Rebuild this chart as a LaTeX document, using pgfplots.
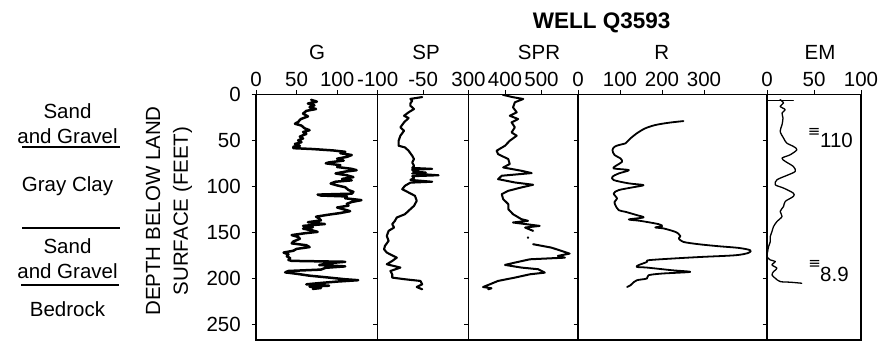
\documentclass[border=0pt]{standalone}
\usepackage{fontspec}
\setmainfont{Liberation Sans}
\newfontfamily\symfont{DejaVu Sans}
\usepackage{pgfplots}
\pgfplotsset{compat=1.18}
\newcommand{\fs}{\fontsize{20.5}{24}\selectfont}
\pgfplotsset{
 welllog/.style={
  scale only axis, height=245.7pt, ymin=0, ymax=267, y dir=reverse,
  anchor=south west,
  axis line style={line width=1.2pt, black},
  tick align=outside, major tick length=4.5pt,
  tick style={line width=0.9pt, black},
  xtick pos=right, xticklabel pos=right,
  ytick pos=left, ytick={0,50,100,150,200,250}, yticklabels={,,,,,},
  xticklabel style={font=\fs, inner sep=0pt, anchor=south, yshift=3pt},
  yticklabel style={font=\fs, inner sep=0pt, anchor=east, xshift=-10.5pt},
  every axis plot/.append style={black, line join=round, line cap=round},
 }
}
\begin{document}
\begin{tikzpicture}[x=1pt,y=1pt]
\useasboundingbox (0,0) rectangle (894,343);
% ---------- G ----------
\begin{axis}[welllog, at={(256pt,3pt)}, width=121.7pt,
  xmin=0, xmax=150, xtick={0,50,100}, xticklabels={0,50,100},
  yticklabels={0,50,100,150,200,250}]
\addplot[line width=2.5pt] coordinates {
(68,6) (75,8) (64,10) (72,12) (66,14) (74,16) (62,18) (58,21) (64,24) (55,27) (52,30) (48,32) (56,34) (60,37) (66,39) (58,41) (62,43) (54,46) (58,48) (52,50) (56,52) (48,54) (54,56) (46,57) (46,58.5) (70,59.5) (95,61) (110,62.5) (104,64) (118,66) (112,68) (100,70) (108,72) (90,74) (86,75) (104,77) (100,79) (118,81) (124,82.5) (110,84) (98,86) (112,88) (120,90) (106,92) (118,93.5) (98,95) (92,97) (100,99) (110,101) (112,102.5) (114,104) (120,106) (118,108) (76,109) (80,110) (112,111) (110,113) (130,115) (118,117) (112,119) (114,121) (100,123) (108,125) (116,127) (104,129) (88,131) (74,133) (78,135) (80,137) (64,139) (85,141) (58,143) (70,144.5) (58,146) (70,148) (76,149.5) (60,151) (44,153) (52,155) (54,157) (46,160) (44,162) (62,164) (66,166) (50,168) (46,170) (34,172) (40,174) (38,176) (42,178) (40,180) (44,181) (110,182) (90,183.5) (78,185.5) (110,187) (86,188.5) (80,190.5) (40,192) (36,193.5) (50,195) (65,197) (88,199) (110,201) (126,202) (100,203.5) (80,205) (62,206.5) (90,208) (66,209) (80,210.5) (70,211.5)
};
\end{axis}
% ---------- SP ----------
\begin{axis}[welllog, at={(377.7pt,3pt)}, width=90.8pt,
  xmin=-100, xmax=0, xtick={-100,-50}, xticklabels={-100,-50}]
\addplot[line width=2.1pt] coordinates {
(-51,3) (-64,5) (-62,7) (-64,10) (-64,12.4) (-60,16) (-66,19.6) (-71,23.3) (-66,25.8) (-71,30.5) (-75,35.9) (-71,39.6) (-75,45) (-77,50.5) (-77,55.9) (-70,57.7) (-66,61.3) (-62,66.8) (-60,70.4) (-62,74) (-60,77.7) (-62,80) (-40,81) (-62,82) (-60,84) (-47,85) (-62,86) (-33,88) (-62,89) (-60,91) (-64,93) (-40,95) (-64,96) (-70,99.4) (-73,103.1) (-66,106.7) (-59,110.3) (-57,115.7) (-60,121.2) (-66,126.6) (-70,130.3) (-79,133.9) (-81,137.5) (-84,141.1) (-82,144.8) (-88,148.4) (-90,153.9) (-88,159.3) (-92,164.7) (-93,168.4) (-90,172) (-79,177.5) (-84,181.1) (-90,184.7) (-75,188.3) (-86,192) (-84,195.6) (-84,199.2) (-70,201) (-53,202.8) (-51,206.4) (-57,209.4) (-51,211.9)
};
\end{axis}
% ---------- SPR ----------
\begin{axis}[welllog, at={(468.5pt,3pt)}, width=109.5pt,
  xmin=300, xmax=600, xtick={300,400,500}, xticklabels={300,400,500}]
\addplot[line width=2pt] coordinates {
(394,0.5) (420,3) (450,5.1) (427,8.7) (422,14.2) (432,19.6) (413,23.3) (436,26.9) (418,30.5) (427,35.9) (418,41.4) (432,45) (413,50.5) (400,55.9) (377,61.3) (381,65) (409,70.4) (413,75.8) (395,79.5) (445,83.1) (473,85.6) (391,88.5) (381,92.2) (427,95.8) (477,98.3) (445,101.2) (409,104.9) (391,108.5) (395,113.9) (409,119.4) (409,124.8) (422,130.3) (445,135.7) (463,137.5) (422,139.3) (495,143) (455,144.8) (477,148.4)
};
\addplot[only marks, mark=*, mark size=1pt] coordinates {(463,155.7)};
\addplot[line width=2pt] coordinates {
(477,162.9) (527,166.6) (555,170.2) (577,173.1) (545,175.6) (564,177.5) (468,179.3) (427,182.9) (400,185.4) (445,188.3) (491,190.1) (509,193.8) (468,195.6) (427,199.2) (381,202.8) (359,206.4) (340,209.4) (363,210.8) (354,211.9)
};
\end{axis}
% ---------- R ----------
\begin{axis}[welllog, at={(578pt,3pt)}, width=189pt,
  xmin=0, xmax=450, xtick={0,100,200,300}, xticklabels={0,100,200,300}]
\addplot[line width=1.8pt, smooth] coordinates {
(251,29.1) (216,30.9) (184,33.4) (160,37) (140,42.4) (125,47.9) (117,51.5) (113,53.3) (97,55.2) (87,57) (82,60.6) (87,66) (101,69.6) (105,73.3) (93,76.9) (85,80.5) (121,82.4) (97,86) (82,89.6) (85,93.2) (121,96.8) (156,98.7) (129,101.2) (97,104.1) (85,107.7) (93,113.2) (87,116.8) (89,120.5) (97,125.9) (113,127.7) (140,131.3) (156,133.8) (121,136) (148,137.5) (192,141.1) (200,143.3) (184,144.7) (204,145.8) (232,149.5) (240,152) (244,154.2) (240,156.7) (251,160.4) (287,162.9) (335,165.1) (382,166.9) (410,169.4) (406,172.3) (375,174.9) (295,176.7) (224,178.5) (168,180.3) (164,182.2) (144,185.7) (140,187.6) (164,188.3) (224,191.2) (267,193) (200,194.8) (168,196.6) (164,200.2) (140,202.1) (129,205.7) (125,207.5) (117,209.4)
};
\end{axis}
% ---------- EM ----------
\begin{axis}[welllog, at={(767pt,3pt)}, width=94pt,
  xmin=0, xmax=100, xtick={0,50,100}, xticklabels={0,50,100}]
\addplot[line width=1.3pt, smooth] coordinates {
(14,5.8) (17.6,9.5) (14,13.1) (19.4,16.7) (16,20.3) (17,25.8) (16,33) (14,40.3) (17.6,47.6) (21,53) (28,56.6) (31.8,60.2) (24.7,65.7) (16,69.3) (19.4,72.9) (28,78.4) (30,83.8) (21,88.2) (10.6,92.9) (8.8,98.3) (17.6,101.9) (28,107.4) (28,111) (19.4,116.4) (17.6,121.9) (14,127.3) (16,132.8) (10.6,138.2) (7,143.6) (5.3,149.1) (3.5,154.5) (3.5,160) (1.7,165.4) (0.7,170.8) (0,176.3) (3.5,180) (8.8,181.7) (5.3,185.4) (10.6,189) (7,192.6) (5.3,196.3) (8.8,199.9) (14,203.5) (24.7,204.2) (37,205.3)
};
\addplot[line width=1.3pt] coordinates {(0,6.5) (28,6.5)};
\end{axis}
% ---------- texts ----------
\node[font=\fs, anchor=base] at (317,283.5) {G};
\node[font=\fs, anchor=base] at (426,283.5) {SP};
\node[font=\fs, anchor=base] at (539,283.5) {SPR};
\node[font=\fs, anchor=base] at (661.7,283.5) {R};
\node[font=\fs, anchor=base] at (820,283.5) {EM};
\node[font=\fontsize{22.5}{26}\selectfont\bfseries, anchor=base] at (601.7,314.7) {WELL Q3593};
\node[rotate=90, align=center, font=\fontsize{20.5}{27.7}\selectfont] at (169,132) {DEPTH BELOW LAND\\SURFACE (FEET)};
\node[font=\fs, anchor=base] at (67.5,224.7) {Sand};
\node[font=\fs, anchor=base] at (67.5,199.7) {and Gravel};
\draw[line width=1.7pt] (22,195.7) -- (120,195.7);
\node[font=\fs, anchor=base] at (67.5,151.3) {Gray Clay};
\draw[line width=1.7pt] (22,115.3) -- (120,115.3);
\node[font=\fs, anchor=base] at (67.5,89.7) {Sand};
\node[font=\fs, anchor=base] at (67.5,64.7) {and Gravel};
\draw[line width=1.7pt] (21,57.7) -- (119,57.7);
\node[font=\fs, anchor=base] at (67.5,26.3) {Bedrock};
\node[font=\fs, anchor=base west, inner sep=0pt] at (820,195) {110};
\node[font=\symfont\fontsize{15}{15}\selectfont, inner sep=0pt] at (814.2,210.5) {≡};
\node[font=\fs, anchor=base west, inner sep=0pt] at (820,61.7) {8.9};
\node[font=\symfont\fontsize{15}{15}\selectfont, inner sep=0pt] at (814.7,78.2) {≡};
\end{tikzpicture}
\end{document}
